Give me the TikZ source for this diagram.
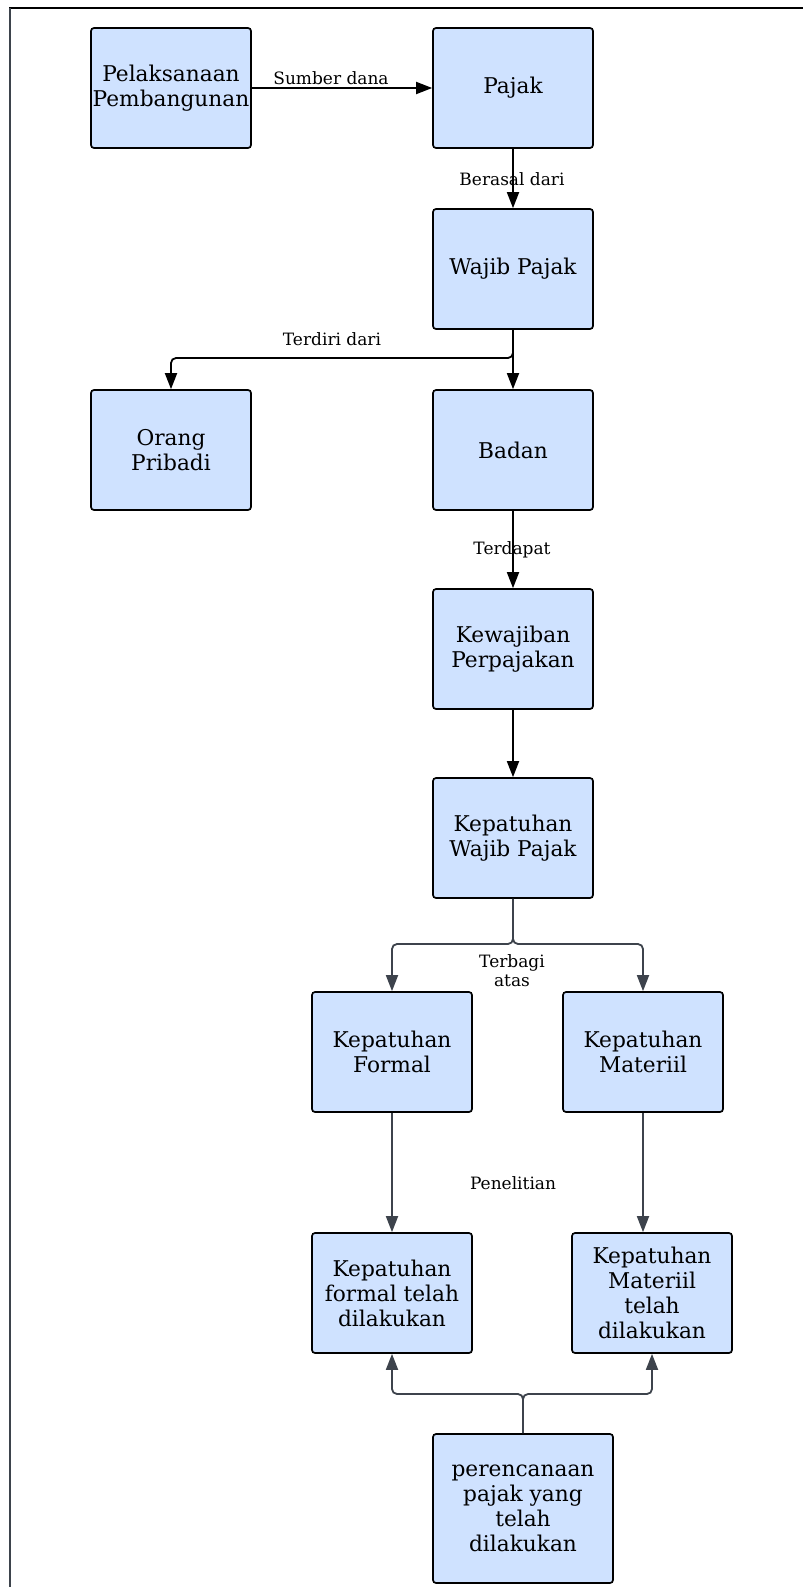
\documentclass[tikz,border=0pt]{standalone}
\usepackage{fontspec}
\setmainfont{DejaVu Serif}
\usepackage{tikz}
\usetikzlibrary{arrows.meta}
\definecolor{boxblue}{HTML}{CFE2FF}
\definecolor{slate}{HTML}{3D434C}
\tikzset{mybox/.style={draw=black,fill=boxblue,rounded corners=3pt,line width=1.7pt,minimum width=160pt,minimum height=120pt,align=center,inner sep=0pt,font=\fontsize{21.7}{25}\selectfont}}
\tikzset{myarrow/.style={line width=1.8pt,-{Triangle[length=16pt,width=12pt]}}}
\tikzset{mylabel/.style={font=\fontsize{17}{19}\selectfont,inner sep=0pt}}

\begin{document}
\begin{tikzpicture}[x=1pt,y=-1pt]
            \useasboundingbox (0,0) rectangle (803,1587);
            % frame
            \draw[line width=2.4pt] (9,8) -- (803,8);
            \draw[slate,line width=1.2pt] (10,8) -- (10,1587);
            % setup the nodes
            \node[mybox] (pelaksanaan) at (171,88) {Pelaksanaan\\Pembangunan};
            \node[mybox] (pajak) at (513,88) {Pajak};
            \node[mybox] (wajib) at (513,269) {Wajib Pajak};
            \node[mybox] (orang) at (171,450) {Orang\\Pribadi};
            \node[mybox] (badan) at (513,450) {Badan};
            \node[mybox] (kewajiban) at (513,649) {Kewajiban\\Perpajakan};
            \node[mybox] (kepatuhan) at (513,838) {Kepatuhan\\Wajib Pajak};
            \node[mybox] (formal) at (392,1052) {Kepatuhan\\Formal};
            \node[mybox] (materiil) at (643,1052) {Kepatuhan\\Materiil};
            \node[mybox] (formaldone) at (392,1293) {Kepatuhan\\formal telah\\dilakukan};
            \node[mybox] (materiildone) at (652,1293) {Kepatuhan\\Materiil\\telah\\dilakukan};
            \node[mybox,minimum width=180pt,minimum height=149pt] (rencana) at (523,1508.5) {perencanaan\\pajak yang\\telah\\dilakukan};
            % labels
            \node[mylabel] (sumber) at (331,78) {Sumber dana};
            \node[mylabel] (berasal) at (512,179) {Berasal dari};
            \node[mylabel] (terdiri) at (332,339) {Terdiri dari};
            \node[mylabel] (terdapat) at (512,550) {Terdapat};
            \node[mylabel,align=center,font=\fontsize{17}{19}\selectfont] (terbagi) at (512,971) {Terbagi\\atas};
            \node[mylabel] (penelitian) at (513,1183) {Penelitian};
            % black connectors
            \draw[myarrow] (pelaksanaan.east) -- (pajak.west);
            \foreach \a/\b in {pajak/wajib,wajib/badan,badan/kewajiban,kewajiban/kepatuhan}
            {
                \draw[myarrow] (\a.south) -- (\b.north);
            }
            \draw[myarrow,rounded corners=5pt] (wajib.south) |- (340,358) -| (orang.north);
            % grey connectors
            \draw[myarrow,slate,rounded corners=5pt] (kepatuhan.south) |- (450,944) -| (formal.north);
            \draw[myarrow,slate,rounded corners=5pt] (kepatuhan.south) |- (580,944) -| (materiil.north);
            \draw[myarrow,slate] (formal.south) -- (formaldone.north);
            \draw[myarrow,slate] (materiil.south) -- (materiil.south |- materiildone.north);
            \draw[myarrow,slate,rounded corners=5pt] (rencana.north) |- (450,1394) -| (formaldone.south);
            \draw[myarrow,slate,rounded corners=5pt] (rencana.north) |- (600,1394) -| (materiildone.south);
\end{tikzpicture}
\end{document}
